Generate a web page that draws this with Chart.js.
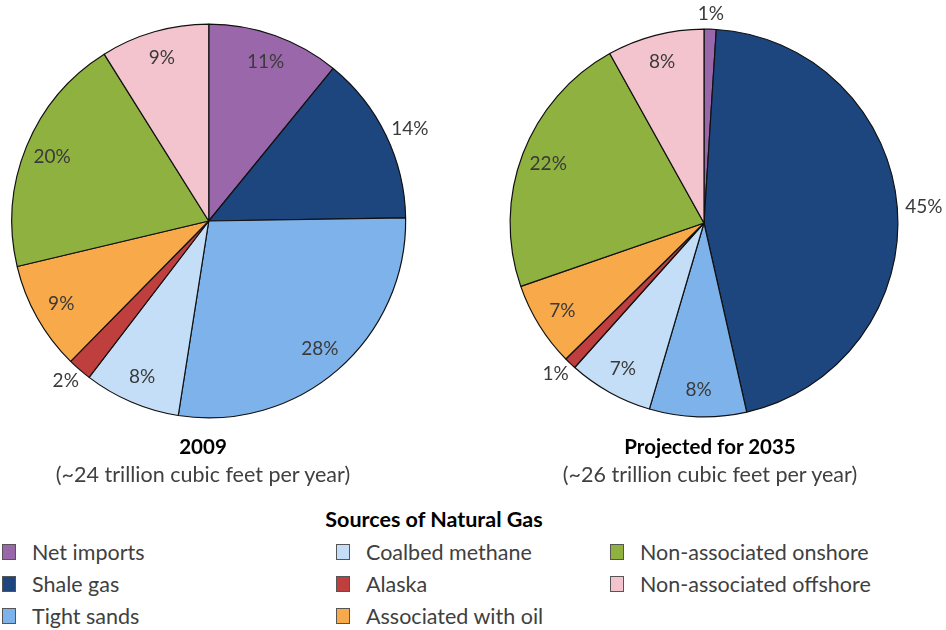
<!DOCTYPE html>
<html>
<head>
<meta charset="utf-8">
<script src="https://cdn.jsdelivr.net/npm/chart.js@4.4.1/dist/chart.umd.min.js"></script>
<style>
  html, body { margin: 0; padding: 0; background: #fff; }
  body { width: 946px; height: 630px; position: relative; overflow: hidden; font-family: Lato, "Noto Sans", sans-serif; color: #404040; }
  .cv { position: absolute; left: 0; top: 0; width: 946px; height: 440px; }
  .ttl { position: absolute; text-align: center; width: 400px; font-size: 21.5px; line-height: 28px; }
  .ttl b { color: #000; font-size: 20.5px; }
  #legTitle { position: absolute; left: 234px; width: 400px; top: 506px; text-align: center; font-weight: bold; font-size: 21.5px; color: #000; }
  .leg { position: absolute; font-size: 21.5px; line-height: 24px; white-space: nowrap; }
  .leg span.box { position: absolute; left: 0; top: 4px; width: 12px; height: 14px; border: 1px solid #555; }
  .leg span.txt { position: absolute; left: 30px; top: 0; }
</style>
</head>
<body>
<canvas id="c1" class="cv" width="946" height="440"></canvas>
<canvas id="c2" class="cv" width="946" height="440"></canvas>
<div class="ttl" style="left:3px; top:432px;"><b>2009</b><br>(~24 trillion cubic feet per year)</div>
<div class="ttl" style="left:510px; top:432px;"><b>Projected for 2035</b><br>(~26 trillion cubic feet per year)</div>
<div id="legTitle">Sources of Natural Gas</div>
<div id="legend"></div>
<script>
const categories = ["Net imports", "Shale gas", "Tight sands", "Coalbed methane", "Alaska", "Associated with oil", "Non-associated onshore", "Non-associated offshore"];
const values2009 = [11, 14, 28, 8, 2, 9, 20, 9];
const values2035 = [1, 45, 8, 7, 1, 7, 22, 8];
const colors = ["#9a68aa", "#1d467e", "#7db3ea", "#c5def7", "#bf3f3f", "#f8a94a", "#8fb13f", "#f4c4ce"];

const labelPlugin = {
  id: 'sliceLabels',
  afterDatasetsDraw(chart, args, opts) {
    const ctx = chart.ctx;
    const meta = chart.getDatasetMeta(0);
    const data = chart.data.datasets[0].data;
    ctx.save();
    ctx.font = '19px Lato, "Noto Sans", sans-serif';
    ctx.fillStyle = '#3a3a3a';
    ctx.textAlign = 'center';
    ctx.textBaseline = 'middle';
    meta.data.forEach((arc, i) => {
      const p = arc.getProps(['x', 'y', 'startAngle', 'endAngle', 'outerRadius'], true);
      const mid = (p.startAngle + p.endAngle) / 2;
      const txt = data[i] + '%';
      const c = Math.cos(mid), s = Math.sin(mid);
      let x, y;
      if (opts.outside.includes(i)) {
        const w = ctx.measureText(txt).width, h = 14;
        const r = p.outerRadius + opts.gap;
        x = p.x + c * r + c * w / 2;
        y = p.y + s * r + s * h / 2;
      } else {
        const r = p.outerRadius * opts.inFactor;
        x = p.x + c * r;
        y = p.y + s * r;
      }
      ctx.fillText(txt, x, y);
    });
    ctx.restore();
  }
};

function makePie(id, values, padding, outside) {
  return new Chart(document.getElementById(id), {
    type: 'pie',
    data: {
      labels: categories,
      datasets: [{ data: values, backgroundColor: colors, borderColor: '#111', borderWidth: 1.2 }]
    },
    options: {
      responsive: false,
      animation: false,
      layout: { padding: padding },
      plugins: {
        legend: { display: false },
        tooltip: { enabled: false },
        sliceLabels: { outside: outside, inFactor: 0.86, gap: 8 }
      }
    },
    plugins: [labelPlugin]
  });
}

makePie('c1', values2009, { left: 11, top: 23.5, right: 539.5, bottom: 21.5 }, [1, 4]);
makePie('c2', values2035, { left: 509, top: 28.5, right: 47, bottom: 22.5 }, [0, 1, 4]);

// HTML legend, column-major in three columns
const legCols = [2, 336, 610];
const legRows = [540, 572, 604];
const legend = document.getElementById('legend');
categories.forEach((name, i) => {
  const col = Math.floor(i / 3), row = i % 3;
  const d = document.createElement('div');
  d.className = 'leg';
  d.style.left = legCols[col] + 'px';
  d.style.top = legRows[row] + 'px';
  d.innerHTML = '<span class="box" style="background:' + colors[i] + '"></span><span class="txt">' + name + '</span>';
  legend.appendChild(d);
});
</script>
</body>
</html>
